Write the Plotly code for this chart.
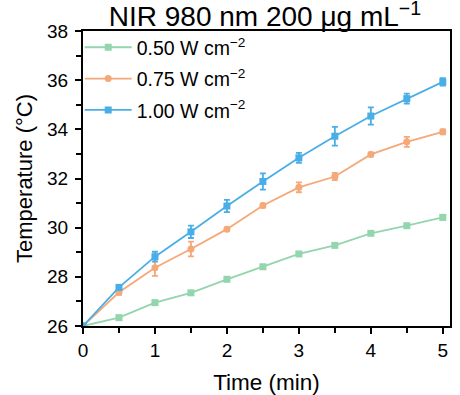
import plotly.graph_objects as go

time_min = [0, 0.5, 1, 1.5, 2, 2.5, 3, 3.5, 4, 4.5, 5]
t_050 = [26.0, 26.34, 26.95, 27.35, 27.9, 28.41, 28.93, 29.28, 29.77, 30.08, 30.42]
e_050 = [0, 0.06, 0.06, 0.06, 0.06, 0.08, 0.06, 0.06, 0.06, 0.06, 0.1]
t_075 = [26.0, 27.37, 28.37, 29.13, 29.94, 30.9, 31.64, 32.08, 32.98, 33.49, 33.9]
e_075 = [0, 0.1, 0.33, 0.3, 0.06, 0.08, 0.2, 0.15, 0.08, 0.2, 0.1]
t_100 = [26.0, 27.57, 28.82, 29.83, 30.88, 31.88, 32.84, 33.72, 34.54, 35.25, 35.93]
e_100 = [0, 0.1, 0.2, 0.25, 0.25, 0.33, 0.2, 0.38, 0.35, 0.2, 0.15]
names = ["0.50 W cm<sup>−2</sup>", "0.75 W cm<sup>−2</sup>", "1.00 W cm<sup>−2</sup>"]
colors = ["#93d5ad", "#f5a878", "#4aaee6"]
symbols = ["square", "circle", "square"]

fig = go.Figure()
for i, (y, e, n, c, s) in enumerate(zip([t_050, t_075, t_100], [e_050, e_075, e_100], names, colors, symbols)):
    fig.add_trace(go.Scatter(
        x=time_min, y=y, name=n, mode="lines+markers", legendgroup=f"g{i}",
        line=dict(color=c, width=1.8),
        marker=dict(symbol=s, size=7, color=c),
        error_y=dict(type="data", array=e, visible=True, color=c, thickness=1.8, width=3),
    ))

font = "Liberation Sans, Arial, sans-serif"
fig.update_layout(
    width=460, height=395,
    margin=dict(l=83, r=10, t=31, b=69),
    paper_bgcolor="white", plot_bgcolor="white",
    font=dict(family=font, color="black", size=19),
    title=dict(text="NIR 980 nm 200 μg mL<sup>−1</sup>", x=0.576, xanchor="center",
               y=0.958, yanchor="middle", font=dict(size=28)),
    legend=dict(x=-0.009, y=1.01, xanchor="left", yanchor="top", bgcolor="rgba(0,0,0,0)",
                font=dict(size=19.5), itemwidth=47, tracegroupgap=3),
    showlegend=True,
)
fig.update_xaxes(
    range=[0, 5.1], tickmode="array", tickvals=[0, 1, 2, 3, 4, 5],
    ticks="outside", ticklen=6, tickwidth=2, tickcolor="black",
    minor=dict(ticks="outside", tickvals=[0.5, 1.5, 2.5, 3.5, 4.5], ticklen=5, tickwidth=2, tickcolor="black"),
    showline=True, linecolor="black", linewidth=2, mirror=True,
    showgrid=False, zeroline=False, automargin=False,
    title=dict(text="Time (min)", font=dict(size=22.5), standoff=14),
    tickfont=dict(size=19),
)
fig.update_yaxes(
    range=[26, 38], tickmode="array", tickvals=[26, 28, 30, 32, 34, 36, 38],
    ticks="outside", ticklen=6, tickwidth=2, tickcolor="black", ticklabelstandoff=3,
    minor=dict(ticks="outside", tickvals=[27, 29, 31, 33, 35, 37], ticklen=5, tickwidth=2, tickcolor="black"),
    showline=True, linecolor="black", linewidth=2, mirror=True,
    showgrid=False, zeroline=False, automargin=False,
    title=dict(text="Temperature (°C)", font=dict(size=22), standoff=8),
    tickfont=dict(size=19),
)
fig.write_html("out.html", config={"displayModeBar": False},
               post_script="document.body.style.margin='0';document.body.style.overflow='hidden';")
